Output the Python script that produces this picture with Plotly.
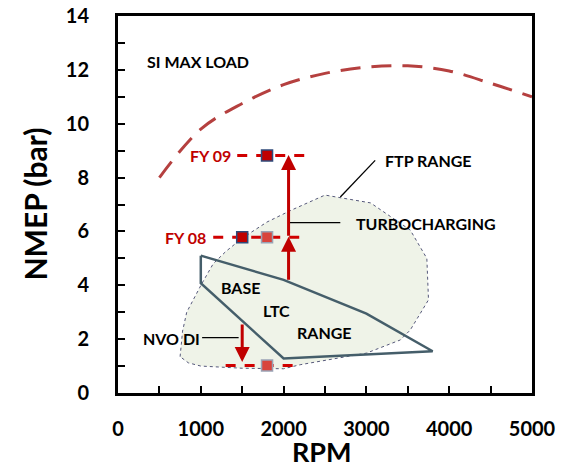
import plotly.graph_objects as go

# ---- data ----
si_rpm = [500, 1000, 1500, 2000, 2500, 3000, 3500, 4000, 4500, 5000]
si_nmep = [8.0, 9.8, 10.75, 11.45, 11.87, 12.1, 12.15, 11.96, 11.5, 11.0]

ftp_rpm = [750, 780, 830, 920, 1010, 1150, 1300, 1500, 1800, 2100, 2500, 3050, 3530, 3730,
           3750, 3530, 3410, 3000, 2450, 2200, 2000, 1500, 1000, 850, 750]
ftp_nmep = [1.35, 2.3, 3.0, 3.55, 4.05, 4.8, 5.25, 5.75, 6.35, 6.8, 7.35, 7.06, 6.05, 5.0,
            3.46, 2.34, 1.97, 1.48, 1.17, 1.05, 0.9, 0.92, 1.0, 1.12, 1.35]

ltc_rpm = [1000, 2000, 3000, 3800, 2000, 1000, 1000]
ltc_nmep = [5.1, 4.2, 2.95, 1.55, 1.28, 4.08, 5.1]

fy09_line_rpm = [1440, 2262]
fy09_nmep = 8.82
fy08_line_rpm = [1150, 2262]
fy08_nmep = 5.78
nvo_line_rpm = [1300, 2145]
nvo_nmep = 1.02

fy09_pts_rpm = [1800]
fy08_pts_rpm = [1500]
fy08b_pts_rpm = [1800]
nvo_pts_rpm = [1800]

# arrows: (x, y_tail, y_head)
arrows = [(2060, 5.78, 8.84), (2060, 4.15, 5.8), (1500, 2.6, 1.15)]

leaders = [
    ([3106, 2685], [8.64, 7.28]),   # FTP RANGE
    ([2685, 2060], [6.33, 6.33]),   # TURBOCHARGING
    ([1016, 1457], [2.06, 2.06]),   # NVO DI
]

labels = [
    ("SI MAX LOAD", 965, 12.31, "center", "black"),
    ("FTP RANGE", 3206, 8.64, "left", "black"),
    ("TURBOCHARGING", 2845, 6.31, "left", "black"),
    ("BASE", 1481, 3.93, "center", "black"),
    ("LTC", 1914, 3.08, "center", "black"),
    ("RANGE", 2489, 2.23, "center", "black"),
    ("NVO DI", 649, 2.02, "center", "black"),
    ("FY 09", 1388, 8.82, "right", "#C00000"),
    ("FY 08", 1090, 5.77, "right", "#C00000"),
]

x_ticks = [0, 1000, 2000, 3000, 4000, 5000]
y_ticks = [0, 2, 4, 6, 8, 10, 12, 14]
x_title = "RPM"
y_title = "NMEP (bar)"

FONT = "Lato"
W = "bold"
RED = "#C00000"

fig = go.Figure()

# FTP range region
fig.add_trace(go.Scatter(x=ftp_rpm, y=ftp_nmep, mode="lines", fill="toself",
                         fillcolor="#EFF3E8",
                         line=dict(color="#55587A", width=1, dash="dot"),
                         hoverinfo="skip", showlegend=False))

# SI max load
fig.add_trace(go.Scatter(x=si_rpm, y=si_nmep, mode="lines", line_shape="spline",
                         line=dict(color="#B5403F", width=3, dash="20px,11px"),
                         showlegend=False))

# LTC range polygon
fig.add_trace(go.Scatter(x=ltc_rpm, y=ltc_nmep, mode="lines",
                         line=dict(color="#455E6A", width=2.5),
                         showlegend=False))

# red dashed lines
for xs, yv in [(fy09_line_rpm, fy09_nmep), (fy08_line_rpm, fy08_nmep), (nvo_line_rpm, nvo_nmep)]:
    fig.add_trace(go.Scatter(x=xs, y=[yv, yv], mode="lines",
                             line=dict(color="#D00000", width=3, dash="10px,9px"),
                             showlegend=False))

# leader lines
for xs, ys in leaders:
    fig.add_trace(go.Scatter(x=xs, y=ys, mode="lines",
                             line=dict(color="black", width=1.3), showlegend=False))

# markers
fig.add_trace(go.Scatter(x=fy09_pts_rpm + fy08_pts_rpm, y=[fy09_nmep, fy08_nmep], mode="markers",
                         marker=dict(symbol="square", size=11, color=RED,
                                     line=dict(color="#2F4A7A", width=1.5)),
                         showlegend=False))
fig.add_trace(go.Scatter(x=fy08b_pts_rpm + nvo_pts_rpm, y=[fy08_nmep, nvo_nmep], mode="markers",
                         marker=dict(symbol="square", size=11, color="#D8443C",
                                     line=dict(color="#9AA3B5", width=1.5)),
                         showlegend=False))

# arrows
for ax_, y0, y1 in arrows:
    fig.add_annotation(x=ax_, y=y1, ax=ax_, ay=y0, xref="x", yref="y", axref="x", ayref="y",
                       showarrow=True, arrowhead=2, arrowsize=1, arrowwidth=3,
                       arrowcolor=RED, text="")

# text labels
for txt, x, y, anc, col in labels:
    fig.add_annotation(x=x, y=y, text=txt, showarrow=False, xanchor=anc, yanchor="middle",
                       font=dict(family=FONT, size=16, color=col, weight=W))

# axis titles
fig.add_annotation(x=0.4928, y=0, xref="paper", yref="paper", yshift=-76, borderpad=0,
                   text=x_title, showarrow=False, xanchor="center", yanchor="bottom",
                   font=dict(family=FONT, size=27, color="black", weight=W))
fig.add_annotation(x=0, y=0.5, xref="paper", yref="paper", xshift=-84, textangle=-90,
                   text=y_title, showarrow=False, xanchor="center", yanchor="middle",
                   font=dict(family=FONT, size=30, color="black", weight=W))

fig.update_layout(
    width=561, height=469,
    margin=dict(l=118, r=29, t=16, b=76),
    paper_bgcolor="white", plot_bgcolor="white",
    font=dict(family=FONT, color="black"),
)
fig.update_xaxes(range=[0, 5000], tickvals=x_ticks, ticktext=[str(v) for v in x_ticks],
                 showgrid=False, zeroline=False, automargin=False,
                 showline=True, linecolor="black", linewidth=3, mirror=True,
                 ticks="inside", ticklen=7, tickwidth=2, tickcolor="black",
                 minor=dict(dtick=500, ticks="inside", ticklen=7, tickwidth=2, tickcolor="black"),
                 tickfont=dict(family=FONT, size=20, color="black", weight=W),
                 ticklabelstandoff=16)
fig.update_yaxes(range=[0, 14], tickvals=y_ticks, ticktext=[str(v) for v in y_ticks],
                 showgrid=False, zeroline=False, automargin=False,
                 showline=True, linecolor="black", linewidth=3, mirror=True,
                 ticks="inside", ticklen=7, tickwidth=2, tickcolor="black",
                 minor=dict(dtick=1, ticks="inside", ticklen=7, tickwidth=2, tickcolor="black"),
                 tickfont=dict(family=FONT, size=20, color="black", weight=W),
                 ticklabelstandoff=22)

fig.write_html("out.html")
